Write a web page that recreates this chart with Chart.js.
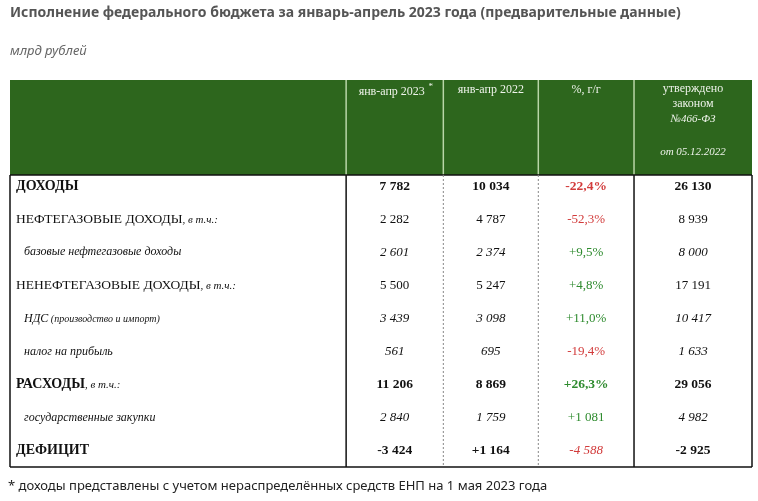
<!DOCTYPE html>
<html><head><meta charset="utf-8">
<script src="https://cdn.jsdelivr.net/npm/chart.js@4"></script>
<style>body{margin:0;background:#fff}#c{display:block}</style>
</head><body>
<div style="width:758px;height:501px"><canvas id="c"></canvas></div>
<script>
// строки таблицы
const rowNames = ['ДОХОДЫ', 'НЕФТЕГАЗОВЫЕ ДОХОДЫ', 'базовые нефтегазовые доходы', 'НЕНЕФТЕГАЗОВЫЕ ДОХОДЫ',
  'НДС', 'налог на прибыль', 'РАСХОДЫ', 'государственные закупки', 'ДЕФИЦИТ'];
const rowNotes = ['', ', в т.ч.:', '', ', в т.ч.:', ' (производство и импорт)', '', ', в т.ч.:', '', ''];
const rowKind = ['bold', 'normal', 'italic', 'normal', 'italic', 'italic', 'bold', 'italic', 'bold'];
const val2023 = ['7 782', '2 282', '2 601', '5 500', '3 439', '561', '11 206', '2 840', '-3 424'];
const val2022 = ['10 034', '4 787', '2 374', '5 247', '3 098', '695', '8 869', '1 759', '+1 164'];
const changeYY = ['-22,4%', '-52,3%', '+9,5%', '+4,8%', '+11,0%', '-19,4%', '+26,3%', '+1 081', '-4 588'];
const lawValues = ['26 130', '8 939', '8 000', '17 191', '10 417', '1 633', '29 056', '4 982', '-2 925'];

const serif = '"Liberation Serif", "DejaVu Serif", serif';
const cols = [0, 0.453, 0.584, 0.712, 0.841, 1]; // доли ширины

const tablePlugin = {
  id: 'table',
  beforeDraw(chart) {
    const {ctx, chartArea: a, scales: {y}} = chart;
    const W = a.right - a.left;
    const cx = i => a.left + cols[i] * W;
    ctx.save();
    // заголовок
    ctx.fillStyle = '#555';
    ctx.font = 'bold 14px "Noto Sans", sans-serif';
    ctx.textBaseline = 'middle';
    ctx.fillText('Исполнение федерального бюджета за январь-апрель 2023 года (предварительные данные)', 10, 13);
    ctx.font = 'italic 13px "Noto Sans", sans-serif';
    ctx.fillStyle = '#666';
    ctx.fillText('млрд рублей', 10, 51);
    ctx.fillStyle = '#222';
    ctx.font = '13px "Noto Sans", sans-serif';
    ctx.fillText('* доходы представлены с учетом нераспределённых средств ЕНП на 1 мая 2023 года', 8, 486);
    // шапка
    const hTop = 80;
    ctx.fillStyle = '#2d661d';
    ctx.fillRect(a.left, hTop, W, a.top - hTop);
    ctx.strokeStyle = '#b9d6a8';
    ctx.lineWidth = 1.5;
    for (let i = 1; i < 5; i++) {
      ctx.beginPath(); ctx.moveTo(cx(i), hTop); ctx.lineTo(cx(i), a.top); ctx.stroke();
    }
    ctx.fillStyle = '#eef3ea';
    ctx.textAlign = 'center';
    ctx.font = '12px ' + serif;
    const mid = i => (cx(i) + cx(i + 1)) / 2;
    ctx.fillText('янв-апр 2023', mid(1) - 3, 92);
    ctx.font = '9px ' + serif;
    ctx.fillText('*', mid(1) + 36, 87);
    ctx.font = '12px ' + serif;
    ctx.fillText('янв-апр 2022', mid(2), 90);
    ctx.fillText('%, г/г', mid(3), 90);
    ctx.fillText('утверждено', mid(4), 89);
    ctx.fillText('законом', mid(4), 104);
    ctx.font = 'italic 11px ' + serif;
    ctx.fillText('№466-ФЗ', mid(4), 119);
    ctx.fillText('от 05.12.2022', mid(4), 152);
    // рамки
    ctx.strokeStyle = '#111';
    ctx.lineWidth = 1.5;
    ctx.beginPath(); ctx.moveTo(a.left, a.top); ctx.lineTo(a.right, a.top); ctx.stroke();
    ctx.beginPath(); ctx.moveTo(a.left, a.bottom); ctx.lineTo(a.right, a.bottom); ctx.stroke();
    [0, 1, 4, 5].forEach(i => {
      ctx.beginPath(); ctx.moveTo(cx(i), a.top); ctx.lineTo(cx(i), a.bottom); ctx.stroke();
    });
    ctx.lineWidth = 1;
    ctx.strokeStyle = '#888';
    ctx.setLineDash([2, 2]);
    [2, 3].forEach(i => {
      ctx.beginPath(); ctx.moveTo(cx(i), a.top); ctx.lineTo(cx(i), a.bottom); ctx.stroke();
    });
    ctx.setLineDash([]);
    // ячейки
    rowNames.forEach((name, r) => {
      const py = y.getPixelForValue(r) - 5 + r * 0.6;
      const k = rowKind[r];
      const main = k === 'bold' ? 'bold 14px ' : (k === 'italic' ? 'italic 12px ' : '13.5px ');
      ctx.textAlign = 'left';
      ctx.fillStyle = '#111';
      const x0 = a.left + (k === 'italic' ? 14 : 6);
      ctx.font = main + serif;
      ctx.fillText(name, x0, py);
      if (rowNotes[r]) {
        const w = ctx.measureText(name).width;
        ctx.font = 'italic ' + (k === 'italic' ? '10px ' : '11px ') + serif;
        ctx.fillText(rowNotes[r], x0 + w, py + 1);
      }
      const numFont = (k === 'bold' ? 'bold 13.5px ' : (k === 'italic' ? 'italic 13px ' : '13px ')) + serif;
      ctx.font = numFont;
      ctx.textAlign = 'center';
      ctx.fillText(val2023[r], mid(1), py);
      ctx.fillText(val2022[r], mid(2), py);
      ctx.fillText(lawValues[r], mid(4), py);
      const c = changeYY[r];
      ctx.fillStyle = c.startsWith('-') ? '#d23b3b' : '#2e8b2e';
      ctx.font = (r === 0 || r === 6 ? 'bold 13.5px ' : (r === 8 ? 'italic 13px ' : '13px ')) + serif;
      ctx.fillText(c, mid(3), py);
    });
    ctx.restore();
  }
};

new Chart(document.getElementById('c'), {
  type: 'bar',
  data: {
    labels: rowNames,
    datasets: [{ data: rowNames.map(() => 0), backgroundColor: 'rgba(0,0,0,0)' }]
  },
  options: {
    indexAxis: 'y',
    responsive: true,
    maintainAspectRatio: false,
    animation: false,
    layout: { padding: { top: 175, bottom: 34, left: 10, right: 6 } },
    plugins: { legend: { display: false }, tooltip: { enabled: false } },
    scales: {
      x: { display: false, min: 0, max: 1 },
      y: { display: false }
    }
  },
  plugins: [tablePlugin]
});
</script>
</body></html>
